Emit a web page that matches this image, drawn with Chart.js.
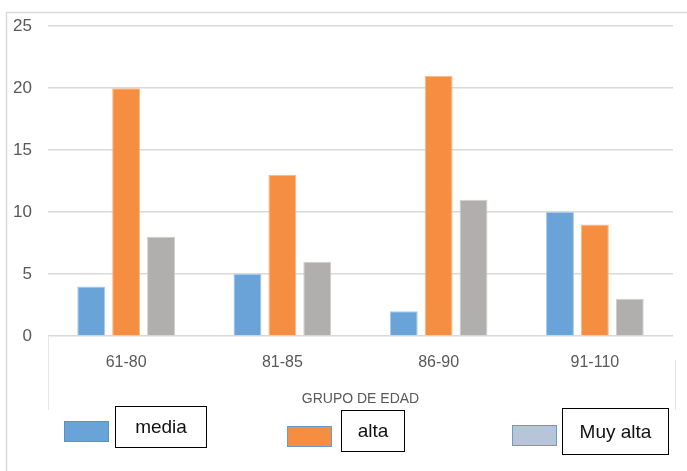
<!DOCTYPE html>
<html>
<head>
<meta charset="utf-8">
<script src="https://cdn.jsdelivr.net/npm/chart.js@4.4.1/dist/chart.umd.min.js"></script>
<style>
  html, body { margin: 0; padding: 0; background: #fff; }
  #wrap { position: relative; width: 687px; height: 471px; overflow: hidden; }
  canvas { position: absolute; left: 0; top: 0; }
  .swatch { position: absolute; box-sizing: border-box; border: 1px solid #5b8fc7; }
  .lbl { position: absolute; box-sizing: border-box; border: 1.5px solid #000; font-family: "Liberation Sans", Arial, sans-serif; font-size: 19px; color: #111; display: flex; align-items: center; justify-content: center; }
</style>
</head>
<body>
<div id="wrap">
  <canvas id="c" width="687" height="471"></canvas>
</div>
<script>
const categories = ["61-80", "81-85", "86-90", "91-110"];
const seriesNames = ["media", "alta", "Muy alta"];
const media = [4, 5, 2, 10];
const alta = [20, 13, 21, 9];
const muyAlta = [8, 6, 11, 3];
const yTicks = [0, 5, 10, 15, 20, 25];
const barColors = ["#6aa3d8", "#f68e42", "#b0afad"];
const barEdges = ["#a9c9ea", "#f9b98a", "#cfcecc"];
const legendColors = ["#6aa3d8", "#f68e42", "#b8c4d8"];
const legendEdges = ["#5b8fc7", "#6a9bd0", "#6a9bd0"];
const axisTitle = "GRUPO DE EDAD";

const frame = {
  id: 'frame',
  afterDraw(chart) {
    const ctx = chart.ctx;
    ctx.save();
    ctx.strokeStyle = '#d9d9d9';
    ctx.lineWidth = 1.5;
    ctx.beginPath();
    ctx.moveTo(6.5, 471); ctx.lineTo(6.5, 12.5); ctx.lineTo(687, 12.5);
    ctx.stroke();
    ctx.strokeStyle = '#e6e6e6';
    ctx.lineWidth = 1;
    const a = chart.chartArea;
    ctx.beginPath();
    ctx.moveTo(a.left + 0.5, a.bottom); ctx.lineTo(a.left + 0.5, 410);
    ctx.moveTo(675.5, 360); ctx.lineTo(675.5, 410);
    ctx.stroke();
    ctx.restore();
  }
};

const data = {
  labels: categories,
  datasets: [media, alta, muyAlta].map((vals, i) => ({
    label: seriesNames[i],
    data: vals,
    backgroundColor: barColors[i],
    borderColor: barEdges[i],
    borderWidth: 1,
    categoryPercentage: 0.67,
    barPercentage: 0.8
  }))
};

new Chart(document.getElementById('c'), {
  type: 'bar',
  data,
  plugins: [frame],
  options: {
    responsive: false,
    animation: false,
    devicePixelRatio: 1,
    layout: { padding: { left: 6, top: 23, right: 14, bottom: 61 } },
    plugins: { legend: { display: false }, tooltip: { enabled: false } },
    scales: {
      x: {
        grid: { display: false },
        border: { display: false },
        ticks: { color: '#595959', font: { family: 'Liberation Sans', size: 16 }, padding: 9 },
        title: { display: true, text: axisTitle, color: '#595959', font: { family: 'Liberation Sans', size: 14 }, padding: { top: 0, bottom: 2 } },
        afterFit(s) { s.height = 74; }
      },
      y: {
        min: 0, max: 25,
        afterBuildTicks(s) { s.ticks = yTicks.map(v => ({ value: v })); },
        grid: { color: '#d9d9d9', lineWidth: 1.5, drawTicks: false },
        border: { display: false },
        ticks: { color: '#595959', font: { family: 'Liberation Sans', size: 17 }, padding: 16 },
        afterFit(s) { s.width = 42; }
      }
    }
  }
});

// legend (custom, positioned like the reference)
const legendPos = [
  { sw: [64, 421, 45, 21], lb: [115, 406, 92, 42] },
  { sw: [287, 426, 45, 21], lb: [341, 410, 64, 42] },
  { sw: [512, 425, 45, 21], lb: [562, 408, 107, 47] }
];
const wrap = document.getElementById('wrap');
seriesNames.forEach((name, i) => {
  const p = legendPos[i];
  const s = document.createElement('div');
  s.className = 'swatch';
  Object.assign(s.style, { left: p.sw[0] + 'px', top: p.sw[1] + 'px', width: p.sw[2] + 'px', height: p.sw[3] + 'px', background: legendColors[i], borderColor: legendEdges[i] });
  wrap.appendChild(s);
  const l = document.createElement('div');
  l.className = 'lbl';
  l.textContent = name;
  Object.assign(l.style, { left: p.lb[0] + 'px', top: p.lb[1] + 'px', width: p.lb[2] + 'px', height: p.lb[3] + 'px' });
  wrap.appendChild(l);
});
</script>
</body>
</html>
